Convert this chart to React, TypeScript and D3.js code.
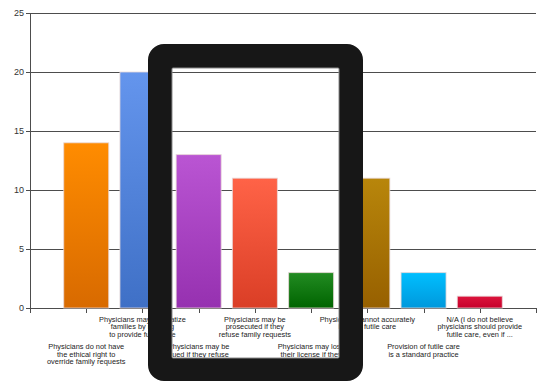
import React from "react";
import * as d3 from "d3";

const categories: string[][] = [
  ["Physicians do not have", "the ethical right to", "override family requests"],
  ["Physicians may stigmatize", "families by refusing", "to provide futile care"],
  ["Physicians may be", "sued if they refuse", "to provide futile care"],
  ["Physicians may be", "prosecuted if they", "refuse family requests"],
  ["Physicians may lose", "their license if they", "refuse"],
  ["Physicians cannot accurately", "identify futile care"],
  ["Provision of futile care", "is a standard practice"],
  ["N/A (I do not believe", "physicians should provide", "futile care, even if ..."],
];
const values: number[] = [14, 20, 13, 11, 3, 11, 3, 1];
const topColors: string[] = ["#ff8c00", "#6495ed", "#ba55d3", "#ff6347", "#228b22", "#b8860b", "#00bfff", "#dc143c"];
const bottomColors: string[] = ["#d86a00", "#3f70c6", "#9631b0", "#da3e26", "#006400", "#976000", "#0098dc", "#c6002b"];
const yTicks: number[] = [0, 5, 10, 15, 20, 25];

const W = 540;
const H = 382;
const left = 30;
const right = 536;
const top = 13;
const bottom = 308;

export default function App() {
  const y = d3.scaleLinear().domain([0, 25]).range([bottom, top]);
  const x = d3.scaleLinear().domain([0, categories.length + 1]).range([left, right]);
  const barW = 45;
  const slots = d3.range(0, categories.length + 2);

  const outer = { x0: 148, y0: 44, x1: 363, y1: 381, r: 16 };
  const inner = { x0: 172, y0: 68, x1: 339, y1: 358 };
  const rr = (a: { x0: number; y0: number; x1: number; y1: number }, r: number) => {
    const p = d3.path();
    p.moveTo(a.x0 + r, a.y0);
    p.lineTo(a.x1 - r, a.y0);
    p.arcTo(a.x1, a.y0, a.x1, a.y0 + r, r);
    p.lineTo(a.x1, a.y1 - r);
    p.arcTo(a.x1, a.y1, a.x1 - r, a.y1, r);
    p.lineTo(a.x0 + r, a.y1);
    p.arcTo(a.x0, a.y1, a.x0, a.y1 - r, r);
    p.lineTo(a.x0, a.y0 + r);
    p.arcTo(a.x0, a.y0, a.x0 + r, a.y0, r);
    p.closePath();
    return p.toString();
  };

  return (
    <svg width={W} height={H} style={{ position: "absolute", left: 0, top: 0 }} fontFamily="Liberation Sans, Arial, sans-serif">
      <defs>
        {values.map((_, i) => (
          <linearGradient key={i} id={`g${i}`} x1="0" y1="0" x2="0" y2="1">
            <stop offset="0%" stopColor={topColors[i]} />
            <stop offset="100%" stopColor={bottomColors[i]} />
          </linearGradient>
        ))}
      </defs>
      <rect x={0} y={0} width={W} height={H} fill="#fff" />
      {yTicks.map((t) => (
        <g key={t}>
          <line x1={left - 4} x2={right} y1={Math.round(y(t)) + 0.5} y2={Math.round(y(t)) + 0.5} stroke="#4d4d4d" strokeWidth={1} />
          <text x={left - 6} y={y(t) + 3.2} textAnchor="end" fontSize={9} fill="#333">
            {t}
          </text>
        </g>
      ))}
      <line x1={left + 0.5} x2={left + 0.5} y1={top} y2={bottom + 5} stroke="#4d4d4d" />
      {slots.map((s) => (
        <line key={s} x1={Math.round(x(s)) + 0.5} x2={Math.round(x(s)) + 0.5} y1={bottom} y2={bottom + 5} stroke="#4d4d4d" />
      ))}
      {values.map((v, i) => (
        <rect
          key={i}
          x={x(i + 1) - barW / 2}
          y={y(v)}
          width={barW}
          height={y(0) - y(v)}
          fill={`url(#g${i})`}
          stroke="#e8d8d8"
          strokeOpacity={0.8}
          strokeWidth={1}
        />
      ))}
      {categories.map((lines, i) => {
        const base = i % 2 === 0 ? 349.4 : 321.8;
        return (
          <text key={i} x={x(i + 1)} y={base} textAnchor="middle" fontSize={7.4} fill="#222">
            {lines.map((l, j) => (
              <tspan key={j} x={x(i + 1)} y={base + j * 7.4}>
                {l}
              </tspan>
            ))}
          </text>
        );
      })}
      <path d={rr(outer, outer.r) + rr(inner, 1)} fill="#171717" fillRule="evenodd" />
      <path d={rr(inner, 1)} fill="none" stroke="#8a8a8a" strokeWidth={1} />
    </svg>
  );
}
